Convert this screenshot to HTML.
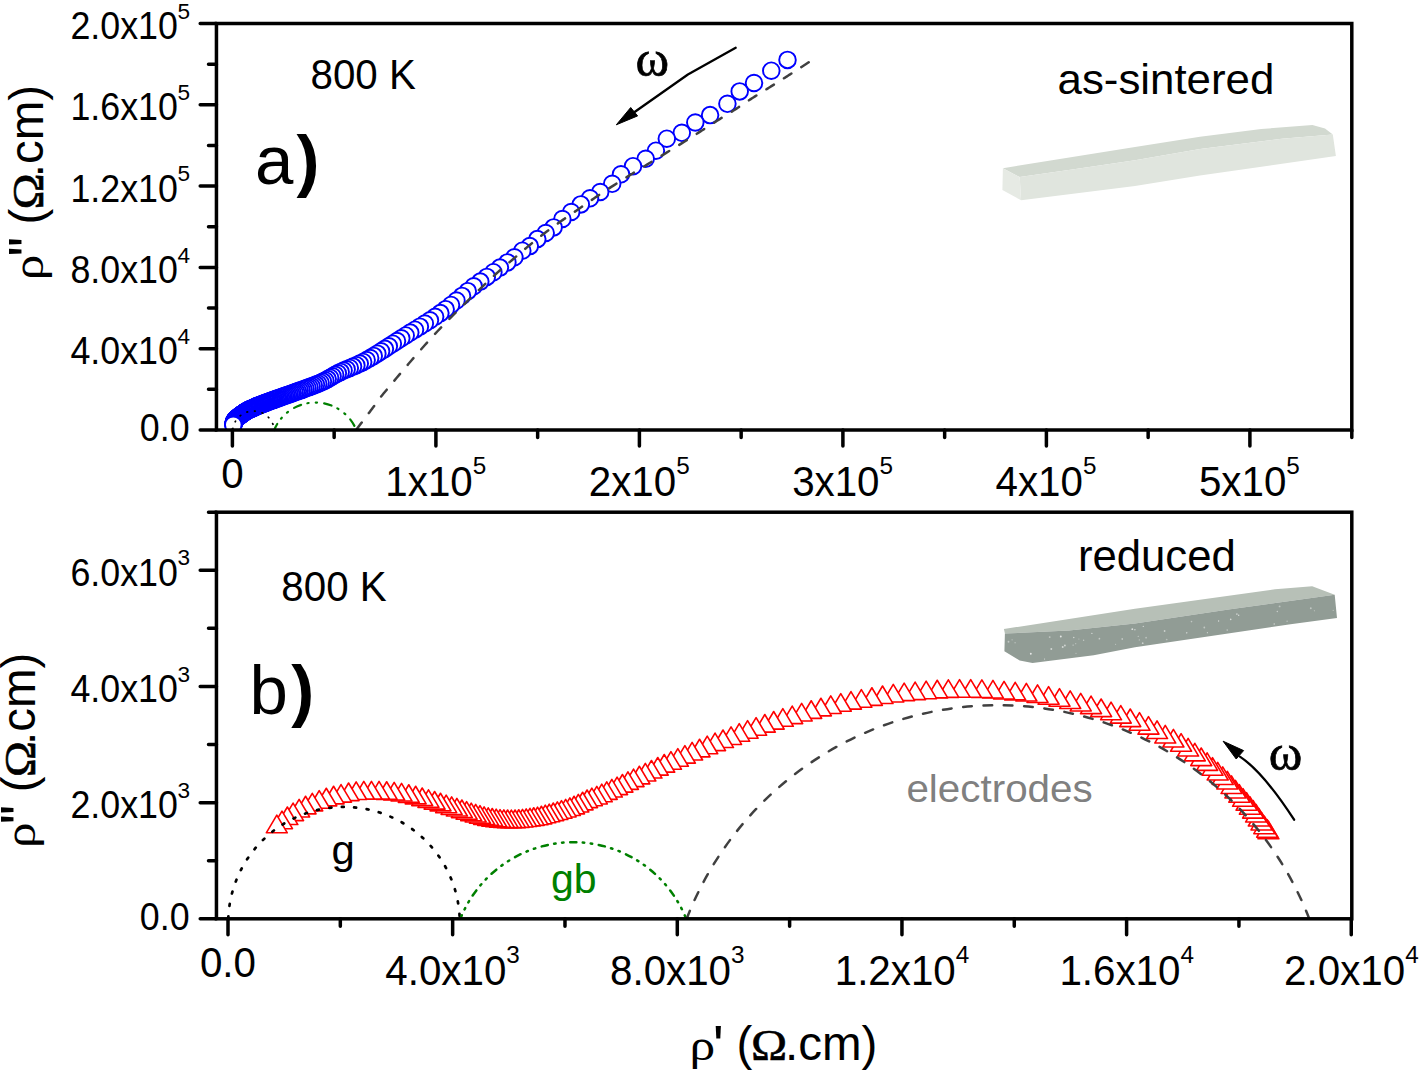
<!DOCTYPE html>
<html><head><meta charset="utf-8"><style>html,body{margin:0;padding:0;background:#fff;overflow:hidden}svg{display:block}svg{font-family:"Liberation Sans",sans-serif}</style></head><body>
<svg width="1419" height="1070" viewBox="0 0 1419 1070">
<defs><clipPath id="ca"><rect x="216.45" y="23.5" width="1135.35" height="406.5"/></clipPath><clipPath id="cb"><rect x="216.45" y="512.2" width="1135.35" height="406.6"/></clipPath></defs>
<rect width="1419" height="1070" fill="#fff"/>
<g stroke="none">
<polygon points="1002.9,168.2 1135,147 1200,136.7 1261.3,129 1312.4,124.9 1325,128.5 1332.8,134.6 1281.7,138.7 1200,148.9 1135,160.3 1073.9,169.2 1019.7,177.1" fill="#d2d9d0"/>
<polygon points="1019.7,177.1 1073.9,169.2 1135,160.3 1200,148.9 1281.7,138.7 1332.8,134.6 1335.9,156.1 1200,175.5 1135,186 1021.1,200.3" fill="#e0e5de"/>
<polygon points="1002.9,168.2 1019.7,177.1 1021.1,200.3 1002.4,189.9" fill="#e6eae4"/>
<polygon points="1003.9,629 1135,608.8 1275,589.3 1312.2,586.2 1334.7,594.7 1228.5,609.5 1135,623.6 1069,630.5 1004.9,633.5" fill="#b7c0b7"/>
<polygon points="1004.9,633.5 1069,630.5 1135,623.6 1228.5,609.5 1334.7,594.7 1337,618 1290.5,624.2 1135,647.3 1093.7,655.2 1032.5,663.1 1019.7,660.6 1004.4,651.2" fill="#919c95"/>
<circle cx="1134.9" cy="629.7" r="0.72" fill="#fff" fill-opacity="0.61"/><circle cx="1099.4" cy="638.7" r="0.85" fill="#fff" fill-opacity="0.48"/><circle cx="1015.1" cy="642.8" r="0.69" fill="#fff" fill-opacity="0.39"/><circle cx="1073.8" cy="637.5" r="0.65" fill="#fff" fill-opacity="0.68"/><circle cx="1287.1" cy="621.2" r="0.74" fill="#fff" fill-opacity="0.42"/><circle cx="1236.9" cy="614.1" r="0.94" fill="#fff" fill-opacity="0.47"/><circle cx="1191.5" cy="621.6" r="0.81" fill="#fff" fill-opacity="0.44"/><circle cx="1064.9" cy="645.5" r="0.88" fill="#fff" fill-opacity="0.61"/><circle cx="1310.8" cy="608.2" r="0.93" fill="#fff" fill-opacity="0.43"/><circle cx="1076.0" cy="653.2" r="0.56" fill="#fff" fill-opacity="0.48"/><circle cx="1230.7" cy="619.4" r="0.79" fill="#fff" fill-opacity="0.65"/><circle cx="1227.2" cy="630.1" r="0.78" fill="#fff" fill-opacity="0.44"/><circle cx="1164.6" cy="631.0" r="0.89" fill="#fff" fill-opacity="0.53"/><circle cx="1073.1" cy="645.1" r="0.69" fill="#fff" fill-opacity="0.52"/><circle cx="1277.3" cy="611.5" r="0.74" fill="#fff" fill-opacity="0.50"/><circle cx="1091.9" cy="633.4" r="0.66" fill="#fff" fill-opacity="0.63"/><circle cx="1139.3" cy="639.9" r="0.67" fill="#fff" fill-opacity="0.44"/><circle cx="1314.4" cy="610.8" r="0.57" fill="#fff" fill-opacity="0.48"/><circle cx="1062.7" cy="647.0" r="0.97" fill="#fff" fill-opacity="0.59"/><circle cx="1083.6" cy="640.2" r="0.70" fill="#fff" fill-opacity="0.47"/><circle cx="1238.7" cy="615.3" r="0.69" fill="#fff" fill-opacity="0.69"/><circle cx="1186.7" cy="632.8" r="0.83" fill="#fff" fill-opacity="0.50"/><circle cx="1218.6" cy="621.0" r="0.68" fill="#fff" fill-opacity="0.67"/><circle cx="1030.8" cy="653.8" r="0.94" fill="#fff" fill-opacity="0.78"/><circle cx="1166.7" cy="639.5" r="0.86" fill="#fff" fill-opacity="0.36"/><circle cx="1274.2" cy="624.0" r="0.72" fill="#fff" fill-opacity="0.60"/><circle cx="1060.8" cy="636.5" r="0.95" fill="#fff" fill-opacity="0.75"/><circle cx="1049.7" cy="637.1" r="0.95" fill="#fff" fill-opacity="0.44"/><circle cx="1142.7" cy="643.2" r="0.87" fill="#fff" fill-opacity="0.55"/><circle cx="1122.2" cy="639.0" r="0.79" fill="#fff" fill-opacity="0.66"/><circle cx="1333.2" cy="610.3" r="0.63" fill="#fff" fill-opacity="0.44"/><circle cx="1204.3" cy="627.5" r="0.91" fill="#fff" fill-opacity="0.44"/><circle cx="1207.4" cy="632.7" r="0.60" fill="#fff" fill-opacity="0.58"/><circle cx="1012.1" cy="639.8" r="0.66" fill="#fff" fill-opacity="0.41"/><circle cx="1051.3" cy="648.9" r="0.98" fill="#fff" fill-opacity="0.58"/><circle cx="1132.3" cy="629.2" r="0.91" fill="#fff" fill-opacity="0.69"/><circle cx="1008.5" cy="641.7" r="0.94" fill="#fff" fill-opacity="0.45"/><circle cx="1044.6" cy="659.1" r="0.52" fill="#fff" fill-opacity="0.77"/><circle cx="1115.6" cy="644.2" r="0.50" fill="#fff" fill-opacity="0.55"/><circle cx="1138.2" cy="636.3" r="0.51" fill="#fff" fill-opacity="0.73"/><circle cx="1078.9" cy="638.9" r="0.52" fill="#fff" fill-opacity="0.46"/><circle cx="1146.1" cy="637.7" r="0.88" fill="#fff" fill-opacity="0.38"/><circle cx="1143.3" cy="626.4" r="0.64" fill="#fff" fill-opacity="0.61"/><circle cx="1279.6" cy="606.4" r="0.94" fill="#fff" fill-opacity="0.41"/><circle cx="1075.7" cy="643.7" r="0.65" fill="#fff" fill-opacity="0.40"/>
</g>

<g clip-path="url(#ca)" fill="#fff" stroke="#0000ff" stroke-width="1.9"><circle cx="787.5" cy="59.9" r="8.3"/><circle cx="771.3" cy="70.7" r="8.3"/><circle cx="754" cy="83" r="8.3"/><circle cx="739.7" cy="91.4" r="8.3"/><circle cx="727.4" cy="103.8" r="8.3"/><circle cx="710.1" cy="115.1" r="8.3"/><circle cx="695.3" cy="122.5" r="8.3"/><circle cx="681.8" cy="132.8" r="8.3"/><circle cx="666.8" cy="138.7" r="8.3"/><circle cx="655.9" cy="150.7" r="8.3"/><circle cx="645.7" cy="158.8" r="8.3"/><circle cx="633" cy="166.2" r="8.3"/><circle cx="621" cy="174.3" r="8.3"/><circle cx="612.2" cy="183.8" r="8.3"/><circle cx="600.2" cy="192" r="8.3"/><circle cx="590" cy="198.3" r="8.3"/><circle cx="580.8" cy="204.4" r="8.3"/><circle cx="571.2" cy="212" r="8.3"/><circle cx="562.4" cy="219" r="8.3"/><circle cx="553.6" cy="227.4" r="8.3"/><circle cx="545.7" cy="233" r="8.3"/><circle cx="537.3" cy="239.1" r="8.3"/><circle cx="529.8" cy="246.1" r="8.3"/><circle cx="522.3" cy="250.7" r="8.3"/><circle cx="514.4" cy="257.3" r="8.3"/><circle cx="507.4" cy="262.4" r="8.3"/><circle cx="499.9" cy="267.6" r="8.3"/><circle cx="493.4" cy="272.2" r="8.3"/><circle cx="486.8" cy="276.9" r="8.3"/><circle cx="480.3" cy="281.6" r="8.3"/><circle cx="473.7" cy="286.3" r="8.3"/><circle cx="467.76" cy="291.14" r="8.3"/><circle cx="462.03" cy="295.89" r="8.3"/><circle cx="456.46" cy="300.49" r="8.3"/><circle cx="451.02" cy="304.92" r="8.3"/><circle cx="445.67" cy="309.13" r="8.3"/><circle cx="440.38" cy="313.09" r="8.3"/><circle cx="435.13" cy="316.79" r="8.3"/><circle cx="429.95" cy="320.26" r="8.3"/><circle cx="424.85" cy="323.54" r="8.3"/><circle cx="419.87" cy="326.66" r="8.3"/><circle cx="415.01" cy="329.67" r="8.3"/><circle cx="410.28" cy="332.58" r="8.3"/><circle cx="405.71" cy="335.43" r="8.3"/><circle cx="401.28" cy="338.23" r="8.3"/><circle cx="397" cy="340.99" r="8.3"/><circle cx="392.86" cy="343.68" r="8.3"/><circle cx="388.83" cy="346.3" r="8.3"/><circle cx="384.91" cy="348.84" r="8.3"/><circle cx="381.1" cy="351.29" r="8.3"/><circle cx="377.37" cy="353.65" r="8.3"/><circle cx="373.73" cy="355.9" r="8.3"/><circle cx="370.16" cy="358.04" r="8.3"/><circle cx="366.65" cy="360.06" r="8.3"/><circle cx="363.18" cy="361.92" r="8.3"/><circle cx="359.76" cy="363.62" r="8.3"/><circle cx="356.38" cy="365.17" r="8.3"/><circle cx="353.06" cy="366.6" r="8.3"/><circle cx="349.82" cy="367.95" r="8.3"/><circle cx="346.66" cy="369.25" r="8.3"/><circle cx="343.6" cy="370.55" r="8.3"/><circle cx="340.66" cy="371.88" r="8.3"/><circle cx="337.85" cy="373.29" r="8.3"/><circle cx="335.17" cy="374.75" r="8.3"/><circle cx="332.6" cy="376.23" r="8.3"/><circle cx="330.11" cy="377.71" r="8.3"/><circle cx="327.69" cy="379.12" r="8.3"/><circle cx="325.29" cy="380.43" r="8.3"/><circle cx="322.91" cy="381.62" r="8.3"/><circle cx="320.56" cy="382.69" r="8.3"/><circle cx="318.24" cy="383.68" r="8.3"/><circle cx="315.97" cy="384.59" r="8.3"/><circle cx="313.75" cy="385.46" r="8.3"/><circle cx="311.59" cy="386.27" r="8.3"/><circle cx="309.47" cy="387.05" r="8.3"/><circle cx="307.41" cy="387.8" r="8.3"/><circle cx="305.4" cy="388.52" r="8.3"/><circle cx="303.45" cy="389.22" r="8.3"/><circle cx="301.54" cy="389.9" r="8.3"/><circle cx="299.69" cy="390.56" r="8.3"/><circle cx="297.88" cy="391.2" r="8.3"/><circle cx="296.13" cy="391.83" r="8.3"/><circle cx="294.42" cy="392.45" r="8.3"/><circle cx="292.76" cy="393.05" r="8.3"/><circle cx="291.15" cy="393.63" r="8.3"/><circle cx="289.57" cy="394.2" r="8.3"/><circle cx="288.04" cy="394.74" r="8.3"/><circle cx="286.54" cy="395.27" r="8.3"/><circle cx="285.08" cy="395.78" r="8.3"/><circle cx="283.66" cy="396.28" r="8.3"/><circle cx="282.28" cy="396.77" r="8.3"/><circle cx="280.94" cy="397.24" r="8.3"/><circle cx="279.63" cy="397.7" r="8.3"/><circle cx="278.35" cy="398.15" r="8.3"/><circle cx="277.11" cy="398.59" r="8.3"/><circle cx="275.9" cy="399.01" r="8.3"/><circle cx="274.72" cy="399.43" r="8.3"/><circle cx="273.57" cy="399.84" r="8.3"/><circle cx="272.46" cy="400.24" r="8.3"/><circle cx="271.37" cy="400.63" r="8.3"/><circle cx="270.31" cy="401.02" r="8.3"/><circle cx="269.28" cy="401.4" r="8.3"/><circle cx="268.28" cy="401.77" r="8.3"/><circle cx="267.31" cy="402.13" r="8.3"/><circle cx="266.36" cy="402.5" r="8.3"/><circle cx="265.44" cy="402.85" r="8.3"/><circle cx="264.54" cy="403.19" r="8.3"/><circle cx="263.66" cy="403.53" r="8.3"/><circle cx="262.81" cy="403.86" r="8.3"/><circle cx="261.98" cy="404.19" r="8.3"/><circle cx="261.17" cy="404.51" r="8.3"/><circle cx="260.38" cy="404.82" r="8.3"/><circle cx="259.62" cy="405.13" r="8.3"/><circle cx="258.87" cy="405.43" r="8.3"/><circle cx="258.15" cy="405.72" r="8.3"/><circle cx="257.44" cy="406.01" r="8.3"/><circle cx="256.75" cy="406.3" r="8.3"/><circle cx="256.08" cy="406.58" r="8.3"/><circle cx="255.42" cy="406.85" r="8.3"/><circle cx="254.79" cy="407.12" r="8.3"/><circle cx="254.17" cy="407.39" r="8.3"/><circle cx="253.57" cy="407.65" r="8.3"/><circle cx="252.98" cy="407.9" r="8.3"/><circle cx="252.41" cy="408.15" r="8.3"/><circle cx="251.85" cy="408.4" r="8.3"/><circle cx="251.31" cy="408.65" r="8.3"/><circle cx="250.78" cy="408.89" r="8.3"/><circle cx="250.27" cy="409.13" r="8.3"/><circle cx="249.77" cy="409.36" r="8.3"/><circle cx="249.29" cy="409.59" r="8.3"/><circle cx="248.82" cy="409.82" r="8.3"/><circle cx="248.36" cy="410.05" r="8.3"/><circle cx="247.91" cy="410.28" r="8.3"/><circle cx="247.48" cy="410.51" r="8.3"/><circle cx="247.07" cy="410.74" r="8.3"/><circle cx="246.66" cy="410.96" r="8.3"/><circle cx="246.27" cy="411.19" r="8.3"/><circle cx="245.89" cy="411.42" r="8.3"/><circle cx="245.53" cy="411.65" r="8.3"/><circle cx="245.18" cy="411.88" r="8.3"/><circle cx="244.84" cy="412.11" r="8.3"/><circle cx="244.51" cy="412.33" r="8.3"/><circle cx="244.19" cy="412.56" r="8.3"/><circle cx="243.88" cy="412.78" r="8.3"/><circle cx="243.58" cy="413" r="8.3"/><circle cx="243.28" cy="413.21" r="8.3"/><circle cx="243" cy="413.42" r="8.3"/><circle cx="242.71" cy="413.63" r="8.3"/><circle cx="242.43" cy="413.83" r="8.3"/><circle cx="242.15" cy="414.04" r="8.3"/><circle cx="241.86" cy="414.24" r="8.3"/><circle cx="241.58" cy="414.45" r="8.3"/><circle cx="241.3" cy="414.65" r="8.3"/><circle cx="241.01" cy="414.86" r="8.3"/><circle cx="240.73" cy="415.07" r="8.3"/><circle cx="240.45" cy="415.27" r="8.3"/><circle cx="240.17" cy="415.48" r="8.3"/><circle cx="239.89" cy="415.69" r="8.3"/><circle cx="239.61" cy="415.9" r="8.3"/><circle cx="239.33" cy="416.12" r="8.3"/><circle cx="239.05" cy="416.33" r="8.3"/><circle cx="238.78" cy="416.54" r="8.3"/><circle cx="238.5" cy="416.76" r="8.3"/><circle cx="238.23" cy="416.98" r="8.3"/><circle cx="237.96" cy="417.2" r="8.3"/><circle cx="237.69" cy="417.42" r="8.3"/><circle cx="237.42" cy="417.65" r="8.3"/><circle cx="237.15" cy="417.88" r="8.3"/><circle cx="236.89" cy="418.11" r="8.3"/><circle cx="236.63" cy="418.34" r="8.3"/><circle cx="236.37" cy="418.58" r="8.3"/><circle cx="236.12" cy="418.82" r="8.3"/><circle cx="235.87" cy="419.06" r="8.3"/><circle cx="235.62" cy="419.31" r="8.3"/><circle cx="235.39" cy="419.57" r="8.3"/><circle cx="235.16" cy="419.83" r="8.3"/><circle cx="234.94" cy="420.11" r="8.3"/><circle cx="234.73" cy="420.39" r="8.3"/><circle cx="234.54" cy="420.69" r="8.3"/><circle cx="234.38" cy="420.99" r="8.3"/><circle cx="234.23" cy="421.31" r="8.3"/><circle cx="234.1" cy="421.63" r="8.3"/><circle cx="233.99" cy="421.97" r="8.3"/><circle cx="233.9" cy="422.3" r="8.3"/><circle cx="233.82" cy="422.64" r="8.3"/><circle cx="233.75" cy="422.99" r="8.3"/><circle cx="233.68" cy="423.33" r="8.3"/><circle cx="233.61" cy="423.67" r="8.3"/><circle cx="233.53" cy="424.02" r="8.3"/><circle cx="233.44" cy="424.35" r="8.3"/><circle cx="233.3" cy="424.8" r="8.3"/></g>
<g clip-path="url(#cb)" fill="#fff" stroke="#ff0000" stroke-width="1.6" stroke-linejoin="round"><path d="M1268.4 821.2l10.5 17.6h-21z"/><path d="M1267.19 819.66l10.5 17.6h-21z"/><path d="M1264.34 816.08l10.5 17.6h-21z"/><path d="M1261.53 812.35l10.5 17.6h-21z"/><path d="M1258.83 808.43l10.5 17.6h-21z"/><path d="M1256.07 804.44l10.5 17.6h-21z"/><path d="M1253.07 800.52l10.5 17.6h-21z"/><path d="M1249.9 796.6l10.5 17.6h-21z"/><path d="M1246.57 792.67l10.5 17.6h-21z"/><path d="M1243.06 788.69l10.5 17.6h-21z"/><path d="M1239.33 784.62l10.5 17.6h-21z"/><path d="M1235.45 780.4l10.5 17.6h-21z"/><path d="M1231.51 775.94l10.5 17.6h-21z"/><path d="M1227.33 771.37l10.5 17.6h-21z"/><path d="M1222.71 766.87l10.5 17.6h-21z"/><path d="M1217.69 762.4l10.5 17.6h-21z"/><path d="M1212.5 757.7l10.5 17.6h-21z"/><path d="M1207.12 752.79l10.5 17.6h-21z"/><path d="M1201.21 748.01l10.5 17.6h-21z"/><path d="M1194.81 743.3l10.5 17.6h-21z"/><path d="M1188.12 738.45l10.5 17.6h-21z"/><path d="M1181.09 733.65l10.5 17.6h-21z"/><path d="M1173.4 729.43l10.5 17.6h-21z"/><path d="M1165.26 725.44l10.5 17.6h-21z"/><path d="M1157.05 720.96l10.5 17.6h-21z"/><path d="M1148.48 716.57l10.5 17.6h-21z"/><path d="M1139.5 712.69l10.5 17.6h-21z"/><path d="M1130.25 709.03l10.5 17.6h-21z"/><path d="M1120.76 705.54l10.5 17.6h-21z"/><path d="M1111.04 702.21l10.5 17.6h-21z"/><path d="M1101.13 699.02l10.5 17.6h-21z"/><path d="M1091.02 696.04l10.5 17.6h-21z"/><path d="M1080.7 693.35l10.5 17.6h-21z"/><path d="M1070.18 690.9l10.5 17.6h-21z"/><path d="M1059.48 688.67l10.5 17.6h-21z"/><path d="M1048.59 686.68l10.5 17.6h-21z"/><path d="M1037.53 684.88l10.5 17.6h-21z"/><path d="M1026.35 683.38l10.5 17.6h-21z"/><path d="M1015.18 682.29l10.5 17.6h-21z"/><path d="M1004.05 681.35l10.5 17.6h-21z"/><path d="M992.97 680.45l10.5 17.6h-21z"/><path d="M981.87 679.86l10.5 17.6h-21z"/><path d="M970.72 679.63l10.5 17.6h-21z"/><path d="M959.55 679.61l10.5 17.6h-21z"/><path d="M948.35 679.79l10.5 17.6h-21z"/><path d="M937.22 680.26l10.5 17.6h-21z"/><path d="M926.14 681.08l10.5 17.6h-21z"/><path d="M915.12 682.04l10.5 17.6h-21z"/><path d="M904.16 683.07l10.5 17.6h-21z"/><path d="M893.28 684.34l10.5 17.6h-21z"/><path d="M882.53 685.97l10.5 17.6h-21z"/><path d="M871.89 687.74l10.5 17.6h-21z"/><path d="M861.34 689.59l10.5 17.6h-21z"/><path d="M850.96 691.56l10.5 17.6h-21z"/><path d="M840.77 693.68l10.5 17.6h-21z"/><path d="M830.75 695.91l10.5 17.6h-21z"/><path d="M820.92 698.25l10.5 17.6h-21z"/><path d="M811.21 700.73l10.5 17.6h-21z"/><path d="M801.65 703.36l10.5 17.6h-21z"/><path d="M792.2 706.04l10.5 17.6h-21z"/><path d="M782.84 708.69l10.5 17.6h-21z"/><path d="M773.69 711.48l10.5 17.6h-21z"/><path d="M764.8 714.52l10.5 17.6h-21z"/><path d="M756.1 717.6l10.5 17.6h-21z"/><path d="M747.58 720.64l10.5 17.6h-21z"/><path d="M739.24 723.71l10.5 17.6h-21z"/><path d="M731.05 726.84l10.5 17.6h-21z"/><path d="M722.99 729.97l10.5 17.6h-21z"/><path d="M715.04 733.04l10.5 17.6h-21z"/><path d="M707.22 736.14l10.5 17.6h-21z"/><path d="M699.55 739.27l10.5 17.6h-21z"/><path d="M692.1 742.4l10.5 17.6h-21z"/><path d="M684.88 745.57l10.5 17.6h-21z"/><path d="M677.83 748.66l10.5 17.6h-21z"/><path d="M670.93 751.59l10.5 17.6h-21z"/><path d="M664.23 754.53l10.5 17.6h-21z"/><path d="M657.75 757.52l10.5 17.6h-21z"/><path d="M651.45 760.47l10.5 17.6h-21z"/><path d="M645.32 763.38l10.5 17.6h-21z"/><path d="M639.35 766.24l10.5 17.6h-21z"/><path d="M633.54 769.04l10.5 17.6h-21z"/><path d="M627.9 771.79l10.5 17.6h-21z"/><path d="M622.43 774.5l10.5 17.6h-21z"/><path d="M617.08 777.07l10.5 17.6h-21z"/><path d="M611.84 779.45l10.5 17.6h-21z"/><path d="M606.72 781.79l10.5 17.6h-21z"/><path d="M601.76 784.19l10.5 17.6h-21z"/><path d="M596.8 786.34l10.5 17.6h-21z"/><path d="M591.82 788.11l10.5 17.6h-21z"/><path d="M587.05 790.02l10.5 17.6h-21z"/><path d="M582.6 792.25l10.5 17.6h-21z"/><path d="M578.29 794.37l10.5 17.6h-21z"/><path d="M574.03 796.26l10.5 17.6h-21z"/><path d="M569.86 797.93l10.5 17.6h-21z"/><path d="M565.65 799.33l10.5 17.6h-21z"/><path d="M561.47 800.6l10.5 17.6h-21z"/><path d="M557.34 801.84l10.5 17.6h-21z"/><path d="M553.26 803.01l10.5 17.6h-21z"/><path d="M549.23 804.14l10.5 17.6h-21z"/><path d="M545.26 805.21l10.5 17.6h-21z"/><path d="M541.37 806.24l10.5 17.6h-21z"/><path d="M537.52 807.14l10.5 17.6h-21z"/><path d="M533.7 807.77l10.5 17.6h-21z"/><path d="M529.94 808.31l10.5 17.6h-21z"/><path d="M526.2 808.88l10.5 17.6h-21z"/><path d="M522.48 809.39l10.5 17.6h-21z"/><path d="M518.75 809.77l10.5 17.6h-21z"/><path d="M515.03 810.01l10.5 17.6h-21z"/><path d="M511.33 810.06l10.5 17.6h-21z"/><path d="M507.61 810l10.5 17.6h-21z"/><path d="M503.85 809.86l10.5 17.6h-21z"/><path d="M500.06 809.59l10.5 17.6h-21z"/><path d="M496.19 809.13l10.5 17.6h-21z"/><path d="M492.24 808.52l10.5 17.6h-21z"/><path d="M488.21 807.79l10.5 17.6h-21z"/><path d="M484.12 806.85l10.5 17.6h-21z"/><path d="M479.99 805.68l10.5 17.6h-21z"/><path d="M475.69 804.42l10.5 17.6h-21z"/><path d="M471.22 803.14l10.5 17.6h-21z"/><path d="M466.61 801.68l10.5 17.6h-21z"/><path d="M461.87 800.02l10.5 17.6h-21z"/><path d="M456.88 798.42l10.5 17.6h-21z"/><path d="M451.63 796.86l10.5 17.6h-21z"/><path d="M446.18 795.11l10.5 17.6h-21z"/><path d="M440.51 793.23l10.5 17.6h-21z"/><path d="M434.6 791.48l10.5 17.6h-21z"/><path d="M428.48 789.8l10.5 17.6h-21z"/><path d="M422.2 788.02l10.5 17.6h-21z"/><path d="M415.66 786.26l10.5 17.6h-21z"/><path d="M408.77 784.73l10.5 17.6h-21z"/><path d="M401.55 783.45l10.5 17.6h-21z"/><path d="M394.16 782.43l10.5 17.6h-21z"/><path d="M386.66 781.74l10.5 17.6h-21z"/><path d="M379.06 781.45l10.5 17.6h-21z"/><path d="M371.44 781.4l10.5 17.6h-21z"/><path d="M363.8 781.43l10.5 17.6h-21z"/><path d="M356.16 781.88l10.5 17.6h-21z"/><path d="M348.57 783.02l10.5 17.6h-21z"/><path d="M341.02 784.54l10.5 17.6h-21z"/><path d="M333.58 786.26l10.5 17.6h-21z"/><path d="M326.29 788.26l10.5 17.6h-21z"/><path d="M319.19 790.63l10.5 17.6h-21z"/><path d="M312.26 793.31l10.5 17.6h-21z"/><path d="M305.56 796.23l10.5 17.6h-21z"/><path d="M299.13 799.42l10.5 17.6h-21z"/><path d="M293.07 803.04l10.5 17.6h-21z"/><path d="M287.36 806.97l10.5 17.6h-21z"/><path d="M281.98 811.08l10.5 17.6h-21z"/><path d="M276.8 815.2l10.5 17.6h-21z"/></g>
<g fill="none" stroke-linecap="round">
<path d="M232.66 430A20.91 20.91 0 0 1 274.3 430" stroke="#000" stroke-width="1.7" stroke-dasharray="0.7 7" stroke-dashoffset="-0.95"/>
<path d="M274.2 430A44.47 44.47 0 0 1 356.39 430" stroke="#008000" stroke-width="2.2" stroke-dasharray="7.6 6.4 1.3 7.2 1.3 7.2" stroke-dashoffset="0.8"/>
<path d="M808.7 62.3 807.59 63.02 806.47 63.75 805.34 64.48 804.2 65.21 803.06 65.95 801.92 66.7 800.77 67.44 799.63 68.18 798.49 68.92 797.35 69.66 796.22 70.4 795.09 71.12 793.98 71.85 792.88 72.56 791.79 73.26 790.71 73.96 789.65 74.64 788.62 75.31 787.6 75.96 786.6 76.6 785.63 77.22 784.68 77.83 783.74 78.42 782.83 79 781.94 79.57 781.06 80.12 780.19 80.67 779.33 81.21 778.49 81.74 777.65 82.27 776.82 82.79 775.99 83.31 775.16 83.83 774.34 84.34 773.51 84.86 772.68 85.38 771.85 85.9 771.01 86.43 770.16 86.96 769.3 87.5 768.43 88.04 767.57 88.58 766.7 89.12 765.84 89.66 764.97 90.19 764.11 90.73 763.24 91.26 762.38 91.8 761.51 92.33 760.64 92.87 759.78 93.4 758.91 93.94 758.05 94.48 757.18 95.02 756.32 95.56 755.45 96.1 754.59 96.65 753.73 97.2 752.86 97.75 752 98.3 751.14 98.86 750.28 99.42 749.42 99.98 748.56 100.55 747.7 101.12 746.84 101.69 745.98 102.27 745.12 102.85 744.26 103.42 743.4 104 742.54 104.58 741.68 105.15 740.82 105.73 739.96 106.31 739.1 106.88 738.24 107.45 737.38 108.02 736.52 108.58 735.66 109.14 734.8 109.7 733.94 110.25 733.08 110.8 732.22 111.35 731.35 111.89 730.49 112.43 729.63 112.97 728.77 113.5 727.91 114.03 727.05 114.57 726.19 115.1 725.32 115.63 724.46 116.17 723.6 116.7 722.73 117.23 721.86 117.77 720.99 118.31 720.12 118.85 719.25 119.4 718.38 119.95 717.5 120.5 716.62 121.06 715.73 121.62 714.84 122.19 713.95 122.76 713.05 123.33 712.15 123.91 711.24 124.49 710.34 125.07 709.43 125.65 708.53 126.23 707.63 126.81 706.73 127.39 705.83 127.97 704.94 128.54 704.05 129.11 703.17 129.68 702.29 130.24 701.42 130.8 700.55 131.35 699.7 131.9 698.91 132.4 698.24 132.83 697.67 133.21 697.17 133.53 696.73 133.82 696.33 134.09 695.94 134.34 695.55 134.6 695.14 134.87 694.69 135.17 694.17 135.5 693.58 135.89 692.88 136.33 692.06 136.85 691.1 137.46 689.98 138.16 688.68 138.97 687.18 139.91 685.46 140.98 683.5 142.2 681.26 143.59 678.71 145.16 675.9 146.89 672.86 148.76 669.6 150.76 666.17 152.86 662.58 155.06 658.89 157.32 655.1 159.64 651.26 162 647.39 164.38 643.52 166.75 639.68 169.12 635.91 171.44 632.24 173.72 628.68 175.92 625.28 178.04 622.06 180.06 619.06 181.95 616.3 183.7 613.74 185.34 611.3 186.91 608.99 188.41 606.78 189.85 604.66 191.24 602.64 192.58 600.7 193.88 598.82 195.13 597.01 196.36 595.25 197.56 593.53 198.73 591.84 199.89 590.18 201.04 588.53 202.18 586.89 203.32 585.24 204.46 583.57 205.62 581.88 206.79 580.16 207.98 578.4 209.2 576.62 210.43 574.86 211.64 573.11 212.84 571.38 214.03 569.66 215.21 567.95 216.39 566.25 217.56 564.56 218.73 562.89 219.89 561.22 221.06 559.56 222.22 557.9 223.39 556.26 224.56 554.61 225.74 552.97 226.92 551.34 228.11 549.7 229.32 548.07 230.53 546.43 231.76 544.8 233 543.16 234.26 541.53 235.53 539.89 236.82 538.26 238.11 536.62 239.42 534.99 240.74 533.37 242.06 531.74 243.39 530.13 244.72 528.52 246.06 526.92 247.39 525.32 248.73 523.74 250.06 522.17 251.39 520.61 252.71 519.06 254.03 517.52 255.34 516 256.64 514.49 257.93 513 259.2 511.56 260.43 510.18 261.6 508.86 262.72 507.59 263.8 506.36 264.84 505.16 265.87 503.97 266.88 502.79 267.89 501.61 268.91 500.42 269.95 499.2 271.02 497.95 272.13 496.65 273.29 495.31 274.51 493.89 275.81 492.4 277.18 490.83 278.65 489.16 280.22 487.39 281.9 485.5 283.7 483.49 285.62 481.37 287.66 479.14 289.79 476.83 292.02 474.43 294.33 471.95 296.72 469.41 299.17 466.82 301.69 464.18 304.27 461.51 306.89 458.82 309.55 456.1 312.23 453.38 314.94 450.67 317.67 447.97 320.4 445.29 323.14 442.64 325.86 440.04 328.57 437.49 331.25 435 333.9 432.51 336.59 429.96 339.38 427.36 342.27 424.72 345.22 422.06 348.23 419.39 351.28 416.71 354.35 414.05 357.43 411.41 360.5 408.8 363.54 406.24 366.55 403.74 369.49 401.31 372.36 398.96 375.14 396.71 377.81 394.57 380.36 392.54 382.77 390.65 385.02 388.9 387.11 387.3 389 385.88 390.69 384.62 392.19 383.53 393.52 382.58 394.68 381.75 395.7 381.04 396.6 380.42 397.39 379.88 398.09 379.42 398.72 379 399.29 378.62 399.82 378.26 400.33 377.91 400.84 377.56 401.36 377.17 401.9 376.76 402.5 376.28 403.16 375.74 403.9 375.12 404.74 374.4 405.7 373.61 406.74 372.8 407.81 371.97 408.91 371.11 410.05 370.24 411.2 369.35 412.39 368.45 413.59 367.53 414.81 366.61 416.04 365.68 417.29 364.73 418.54 363.79 419.8 362.84 421.07 361.89 422.34 360.95 423.6 360 424.86 359.06 426.11 358.13 427.36 357.21 428.59 356.3 429.8" stroke="#404040" stroke-width="2.5" stroke-dasharray="8.83 11.84"/>
<path d="M228.28 918.8A115.78 115.78 0 0 1 459.71 918.8" stroke="#000" stroke-width="2.7" stroke-dasharray="2 10.5" stroke-dashoffset="-0.6"/>
<path d="M460.34 918.8A121.54 121.54 0 0 1 686.17 918.8" stroke="#008000" stroke-width="2.5" stroke-dasharray="6.3 6.4 1.5 6.4 1.5 6.7" stroke-dashoffset="2.4"/>
<path d="M686.68 918.8A333.64 333.64 0 0 1 1309.27 918.8" stroke="#404040" stroke-width="2.5" stroke-dasharray="8.69 11.66"/>
</g>
<g fill="none" stroke="#000" stroke-width="3.5" stroke-linecap="round">
<rect x="216.45" y="23.5" width="1135.35" height="406.5"/>
<rect x="216.45" y="512.2" width="1135.35" height="406.6"/>
<path d="M200.2 430H216.45M200.2 348.7H216.45M200.2 267.4H216.45M200.2 186.1H216.45M200.2 104.8H216.45M200.2 23.5H216.45M208.5 389.35H216.45M208.5 308.05H216.45M208.5 226.75H216.45M208.5 145.45H216.45M208.5 64.15H216.45M232.4 430V445.9M435.9 430V445.9M639.4 430V445.9M842.9 430V445.9M1046.4 430V445.9M1249.9 430V445.9M334.15 430V437.5M537.65 430V437.5M741.15 430V437.5M944.65 430V437.5M1148.15 430V437.5M1351.8 430V437.5M200.2 918.8H216.45M208.5 860.71H216.45M200.2 802.63H216.45M208.5 744.54H216.45M200.2 686.46H216.45M208.5 628.37H216.45M200.2 570.29H216.45M208.5 512.2H216.45M228 918.8V934.7M340.32 918.8V926.3M452.65 918.8V934.7M564.98 918.8V926.3M677.3 918.8V934.7M789.62 918.8V926.3M901.95 918.8V934.7M1014.27 918.8V926.3M1126.6 918.8V934.7M1238.93 918.8V926.3M1351.25 918.8V934.7"/>
</g>
<g font-family="Liberation Sans" fill="#000"><text transform="translate(189.6 441.4) scale(0.93 1)" text-anchor="end" font-size="38.5">0.0</text><text transform="translate(177.9 364.1) scale(0.93 1)" text-anchor="end" font-size="38.5">4.0x10</text><text x="177.6" y="343.9" font-size="22.6">4</text><text transform="translate(177.9 282.8) scale(0.93 1)" text-anchor="end" font-size="38.5">8.0x10</text><text x="177.6" y="262.6" font-size="22.6">4</text><text transform="translate(177.9 201.5) scale(0.93 1)" text-anchor="end" font-size="38.5">1.2x10</text><text x="177.6" y="181.3" font-size="22.6">5</text><text transform="translate(177.9 120.2) scale(0.93 1)" text-anchor="end" font-size="38.5">1.6x10</text><text x="177.6" y="100" font-size="22.6">5</text><text transform="translate(177.9 38.9) scale(0.93 1)" text-anchor="end" font-size="38.5">2.0x10</text><text x="177.6" y="18.7" font-size="22.6">5</text><text transform="translate(189.6 930.2) scale(0.93 1)" text-anchor="end" font-size="38.5">0.0</text><text transform="translate(177.9 818.03) scale(0.93 1)" text-anchor="end" font-size="38.5">2.0x10</text><text x="177.6" y="797.83" font-size="22.6">3</text><text transform="translate(177.9 701.86) scale(0.93 1)" text-anchor="end" font-size="38.5">4.0x10</text><text x="177.6" y="681.66" font-size="22.6">3</text><text transform="translate(177.9 585.69) scale(0.93 1)" text-anchor="end" font-size="38.5">6.0x10</text><text x="177.6" y="565.49" font-size="22.6">3</text><text transform="translate(232.4 488.3) scale(0.96 1)" text-anchor="middle" font-size="42">0</text><text transform="translate(385.33 495.8) scale(0.96 1)" font-size="42">1x10</text><text x="472.76" y="473.9" font-size="24.3">5</text><text transform="translate(588.73 495.8) scale(0.96 1)" font-size="42">2x10</text><text x="676.16" y="473.9" font-size="24.3">5</text><text transform="translate(792.13 495.8) scale(0.96 1)" font-size="42">3x10</text><text x="879.56" y="473.9" font-size="24.3">5</text><text transform="translate(995.53 495.8) scale(0.96 1)" font-size="42">4x10</text><text x="1082.96" y="473.9" font-size="24.3">5</text><text transform="translate(1198.93 495.8) scale(0.96 1)" font-size="42">5x10</text><text x="1286.36" y="473.9" font-size="24.3">5</text><text transform="translate(227.9 977.3) scale(0.96 1)" text-anchor="middle" font-size="42">0.0</text><text transform="translate(385.32 984.8) scale(0.96 1)" font-size="42">4.0x10</text><text x="506.37" y="962.9" font-size="24.3">3</text><text transform="translate(610.02 984.8) scale(0.96 1)" font-size="42">8.0x10</text><text x="731.07" y="962.9" font-size="24.3">3</text><text transform="translate(834.72 984.8) scale(0.96 1)" font-size="42">1.2x10</text><text x="955.77" y="962.9" font-size="24.3">4</text><text transform="translate(1059.42 984.8) scale(0.96 1)" font-size="42">1.6x10</text><text x="1180.47" y="962.9" font-size="24.3">4</text><text transform="translate(1284.12 984.8) scale(0.96 1)" font-size="42">2.0x10</text><text x="1405.17" y="962.9" font-size="24.3">4</text></g>
<g font-family="Liberation Sans" fill="#000">
<text transform="translate(310.5 89.3) scale(0.96 1)" font-size="42">800 K</text>
<text transform="translate(281.3 600.6) scale(0.96 1)" font-size="42">800 K</text>
<text x="255" y="184.3" font-size="69">a</text>
<text x="296.6" y="184.3" font-size="69" font-weight="bold">)</text>
<text x="249.6" y="714.2" font-size="69">b</text>
<text x="291.2" y="714.2" font-size="69" font-weight="bold">)</text>
<text transform="translate(1057.5 94.3) scale(1.015 1)" font-size="43.2">as-sintered</text>
<text x="1077.9" y="570.8" font-size="43.7">reduced</text>
<text transform="translate(906.4 801.8) scale(1.02 1)" font-size="39.6" fill="#808080">electrodes</text>
<text transform="translate(331.5 863.5) scale(1.05 1)" font-size="39.9">g</text>
<text transform="translate(551 893.1) scale(1.02 1)" font-size="40.2" fill="#008000">gb</text>
<text x="635.6" y="75.9" font-size="51" font-family="Liberation Serif" stroke="#000" stroke-width="0.7">ω</text>
<text x="1268.8" y="769.7" font-size="51" font-family="Liberation Serif" stroke="#000" stroke-width="0.7">ω</text>
<g id="xt">
<text transform="translate(689.4 1060) scale(1.17 1)" font-family="Liberation Serif" font-size="44">ρ</text>
<text x="712.8" y="1066" font-size="58">'</text>
<text x="736.6" y="1060" font-size="47.5">(</text>
<text transform="translate(750.9 1060) scale(1.09 1)" font-size="44.7" font-family="Liberation Serif" stroke="#000" stroke-width="0.6">Ω</text>
<text x="785.1" y="1060" font-size="47.5">.cm)</text>
</g>
<g transform="translate(42.9 276.9) rotate(-90)">
<text transform="translate(-3.3 0) scale(1.17 1)" font-family="Liberation Serif" font-size="44">ρ</text>
<text x="20" y="6" font-size="58">'</text>
<text x="29.3" y="6" font-size="58">'</text>
<text x="52.5" y="0" font-size="47.5">(</text>
<text transform="translate(67.4 0) scale(1.09 1)" font-size="44.7" font-family="Liberation Serif" stroke="#000" stroke-width="0.6">Ω</text>
<text x="99.7" y="0" font-size="47.5">.cm)</text>
</g>
<g transform="translate(35 844.7) rotate(-90)">
<text transform="translate(-3.3 0) scale(1.17 1)" font-family="Liberation Serif" font-size="44">ρ</text>
<text x="20" y="6" font-size="58">'</text>
<text x="29.3" y="6" font-size="58">'</text>
<text x="52.5" y="0" font-size="47.5">(</text>
<text transform="translate(67.4 0) scale(1.09 1)" font-size="44.7" font-family="Liberation Serif" stroke="#000" stroke-width="0.6">Ω</text>
<text x="99.7" y="0" font-size="47.5">.cm)</text>
</g>
</g>
<g fill="none" stroke="#000" stroke-width="2.3" stroke-linecap="round" stroke-linejoin="round">
<path d="M735.7 47.8L687.9 74.5L634.6 112"/>
<path d="M1294.1 819.7Q1263 771.85 1239.9 756.6"/>
</g>
<g fill="#000" stroke="#000" stroke-width="1" stroke-linejoin="round">
<polygon points="616.3,124.8 630.7,107.5 637.6,115.9"/>
<polygon points="1223.1,741.2 1243.6,750.6 1236.2,759"/>
</g>

</svg>
</body></html>
